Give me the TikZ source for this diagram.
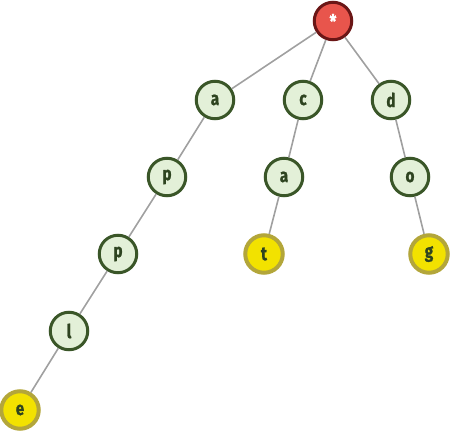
\documentclass[tikz,border=0pt]{standalone}
\usepackage{fontspec}
\setmainfont{Fira Sans}[FakeStretch=0.8, BoldFeatures={FakeBold=1.2}]
\definecolor{gfill}{HTML}{E3F0D8}
\definecolor{gline}{HTML}{3A5628}
\definecolor{gtext}{HTML}{2E4420}
\definecolor{yfill}{HTML}{F2E200}
\definecolor{yline}{HTML}{B3A63A}
\definecolor{rfill}{HTML}{E8554C}
\definecolor{rline}{HTML}{6A1616}
\definecolor{edge}{HTML}{A0A0A0}
\tikzset{
  trienode/.style={circle, minimum size=37.5pt, inner sep=0pt, line width=3pt, draw=gline, fill=gfill,
    font=\fontsize{19}{19}\selectfont\bfseries, text=gtext},
  wordend/.style={trienode, draw=yline, fill=yfill, line width=4pt},
  rootnode/.style={trienode, draw=rline, fill=rfill, text=white},
  link/.style={draw=edge, line width=1.6pt}
}
\begin{document}
\begin{tikzpicture}[x=1pt,y=-1pt]
\useasboundingbox (0,0) rectangle (450,431);
\node[rootnode] (root) at (333,21) {*};
\node[trienode] (a) at (215,100) {a};
\node[trienode] (c) at (303,100) {c};
\node[trienode] (d) at (391,100) {d};
\node[trienode] (ap) at (167,177) {p};
\node[trienode] (ca) at (284,177) {a};
\node[trienode] (do) at (410,177) {o};
\node[trienode] (app) at (118,254) {p};
\node[wordend] (cat) at (264,254) {t};
\node[wordend] (dog) at (429,254) {g};
\node[trienode] (appl) at (69,331) {l};
\node[wordend] (apple) at (20,410) {e};
\draw[link] (root) -- (a);
\draw[link] (root) -- (c);
\draw[link] (root) -- (d);
\draw[link] (a) -- (ap);
\draw[link] (ap) -- (app);
\draw[link] (app) -- (appl);
\draw[link] (appl) -- (apple);
\draw[link] (c) -- (ca);
\draw[link] (ca) -- (cat);
\draw[link] (d) -- (do);
\draw[link] (do) -- (dog);
\end{tikzpicture}
\end{document}
